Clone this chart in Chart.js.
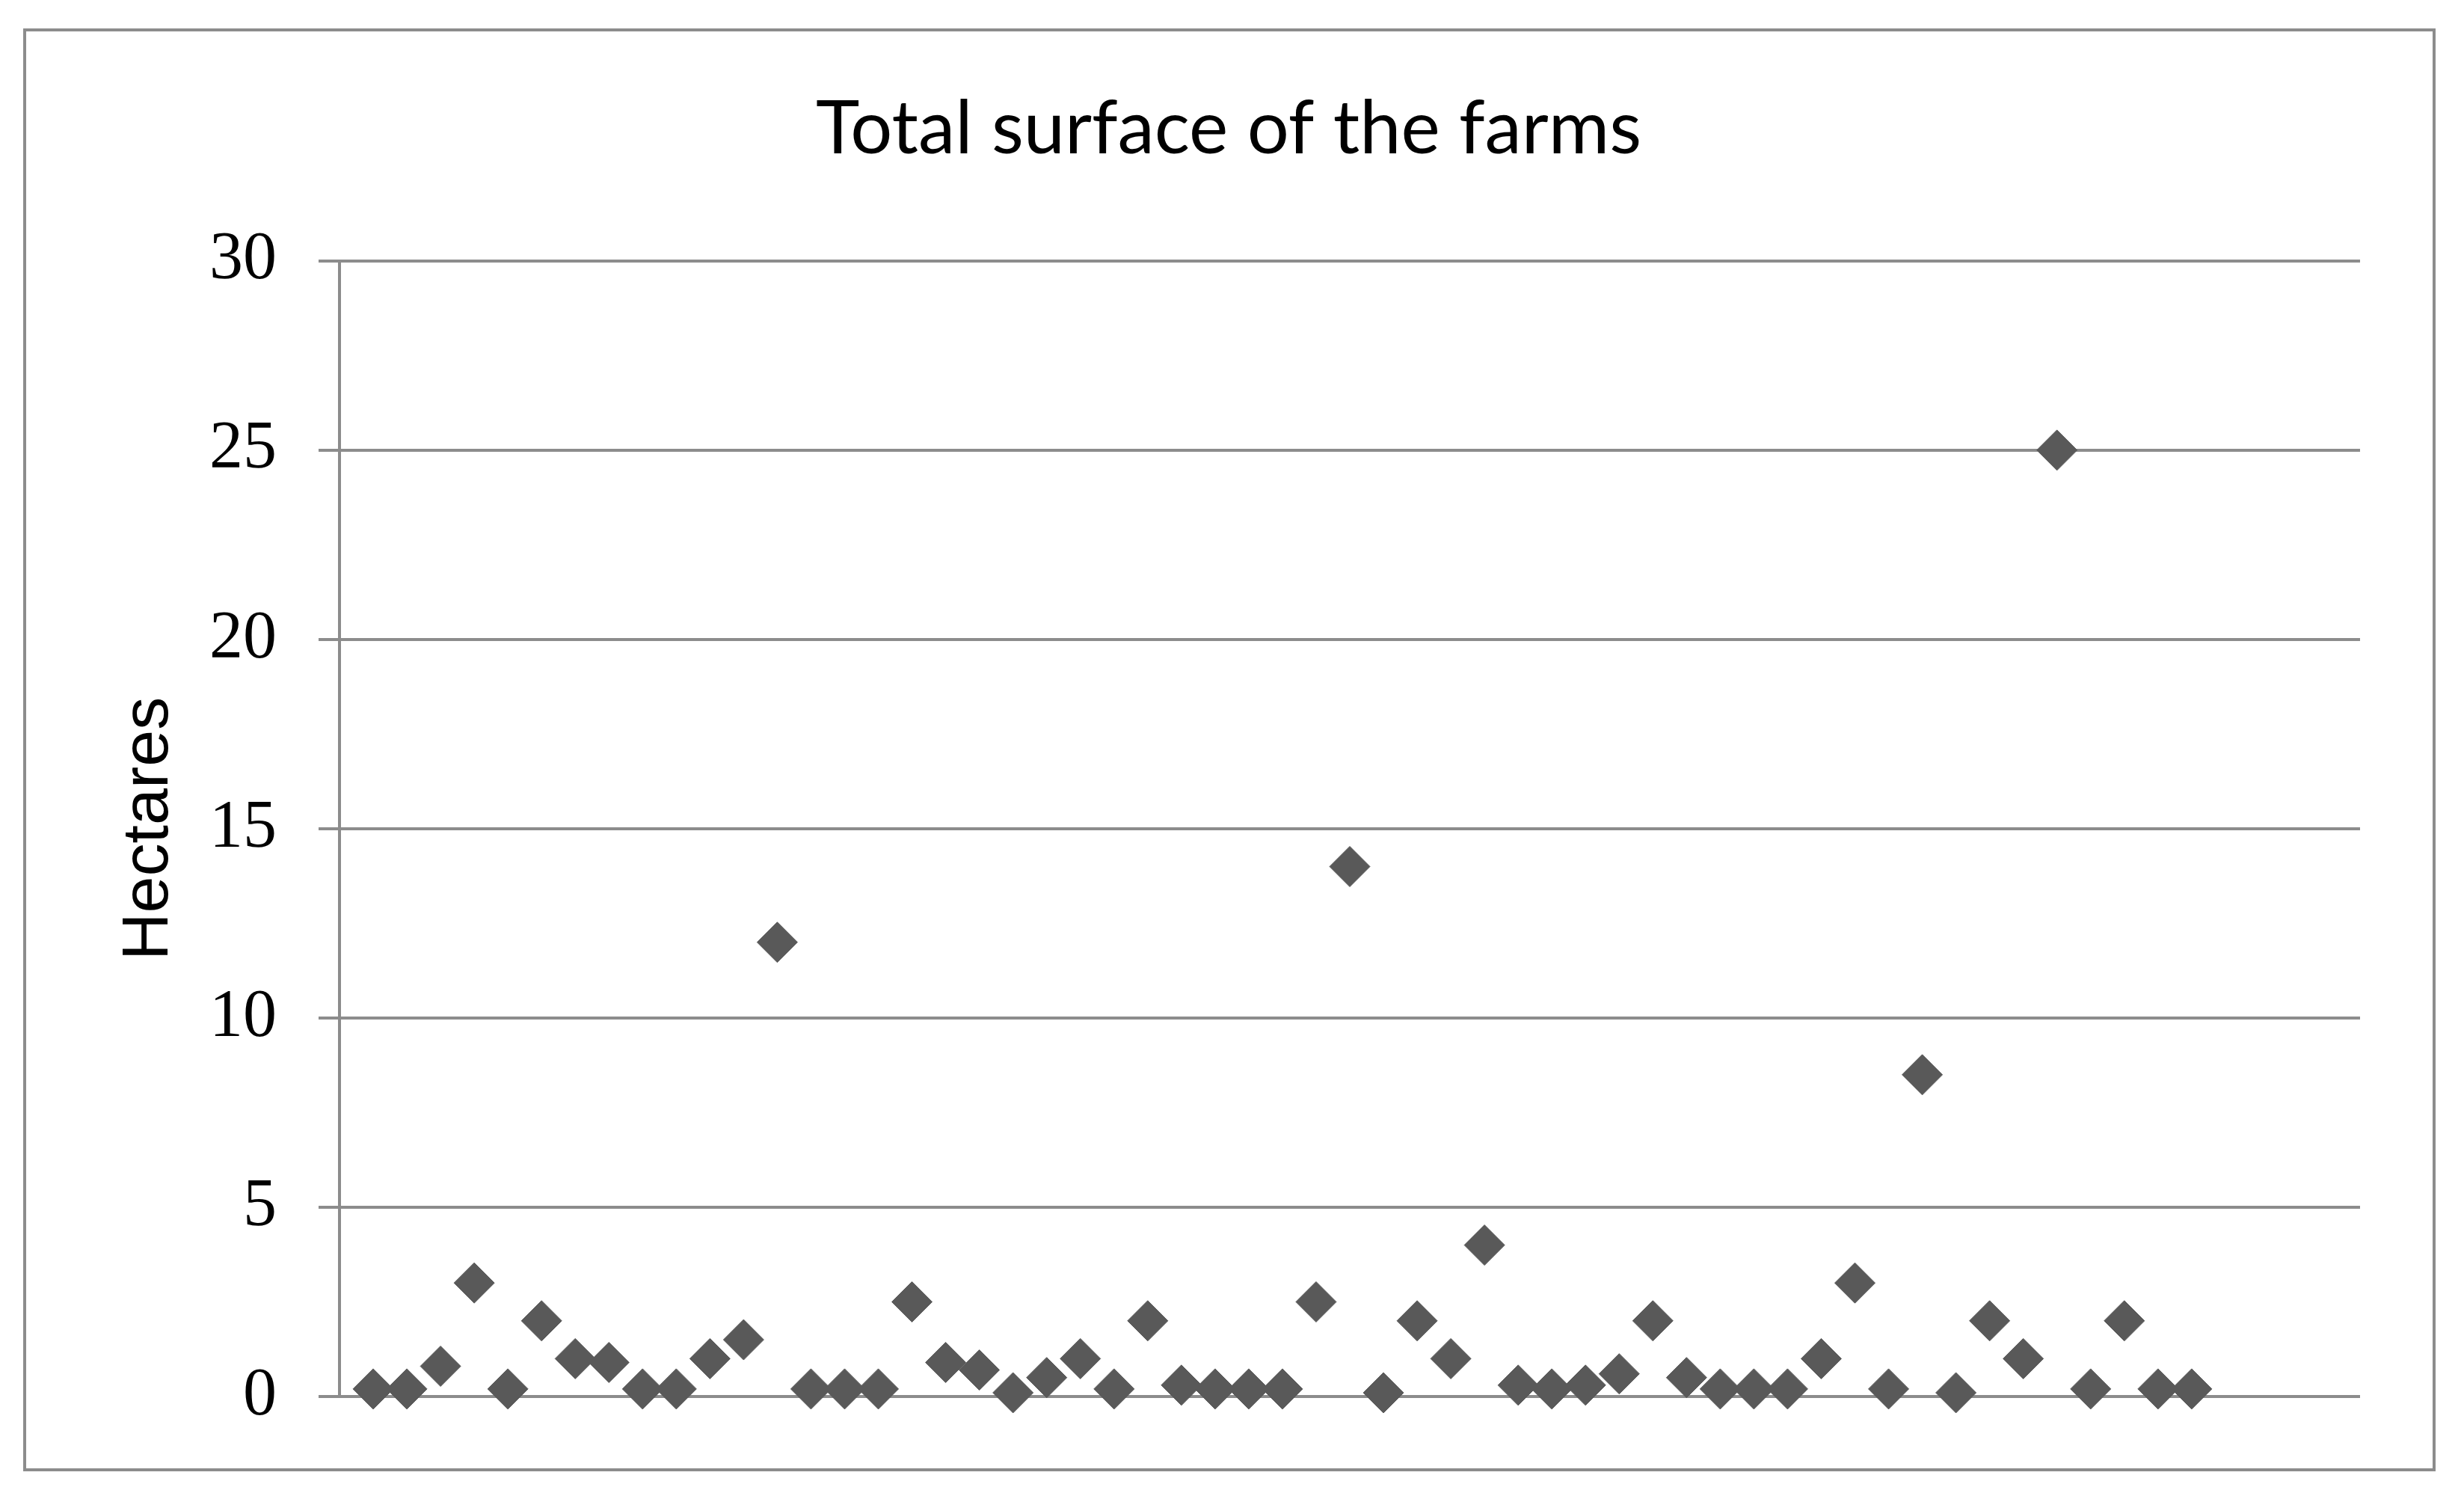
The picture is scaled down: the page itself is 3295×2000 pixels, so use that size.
<!DOCTYPE html>
<html>
<head>
<meta charset="utf-8">
<title>Total surface of the farms</title>
<script src="https://cdn.jsdelivr.net/npm/chart.js@4/dist/chart.umd.min.js"></script>
<style>
  html, body { margin: 0; padding: 0; background: #ffffff; }
  #caja { position: relative; width: 3295px; height: 2000px; }
  /* marco exterior del gráfico */
  #marco {
    position: absolute; left: 31px; top: 38px; width: 3226px; height: 1929px;
    border: 4px solid #8c8c8c; box-sizing: border-box;
  }
  #grafico { position: absolute; left: 0; top: 0; }
</style>
</head>
<body>
<div id="caja">
  <div id="marco"></div>
  <canvas id="grafico" width="3295" height="2000"></canvas>
</div>
<script>
// Número de granja (eje x, sin etiquetas en el original)
const granjas = [
   1,  2,  3,  4,  5,  6,  7,  8,  9, 10,
  11, 12, 13, 14, 15, 16, 17, 18, 19, 20,
  21, 22, 23, 24, 25, 26, 27, 28, 29, 30,
  31, 32, 33, 34, 35, 36, 37, 38, 39, 40,
  41, 42, 43, 44, 45, 46, 47, 48, 49, 50,
  51, 52, 53, 54, 55
];

// Superficie total de cada granja (hectáreas)
const hectareas = [
  0.2, 0.2, 0.8, 3, 0.2, 2, 1, 0.9, 0.2, 0.2,
  1, 1.5, 12, 0.2, 0.2, 0.2, 2.5, 0.9, 0.7, 0.1,
  0.5, 1, 0.2, 2, 0.3, 0.2, 0.2, 0.2, 2.5, 14,
  0.1, 2, 1, 4, 0.3, 0.2, 0.3, 0.6, 2, 0.5,
  0.2, 0.2, 0.2, 1, 3, 0.2, 8.5, 0.1, 2, 1,
  25, 0.2, 2, 0.2, 0.2
];

// Marcas del eje y
const marcasY = [0, 5, 10, 15, 20, 25, 30];

const puntos = granjas.map((g, i) => ({ x: g, y: hectareas[i] }));

const ctx = document.getElementById("grafico").getContext("2d");
const grafico = new Chart(ctx, {
    type: "scatter",
    data: {
        datasets: [
            {
                label: "Hectares",
                data: puntos,
                pointStyle: "rectRot",
                pointRadius: 27,
                pointHoverRadius: 27,
                backgroundColor: "#595959",
                borderColor: "#595959",
                borderWidth: 1,
                clip: false
            }
        ]
    },
    options: {
        responsive: false,
        animation: false,
        events: [],
        layout: {
            // padding izquierdo = derecho aprox. para centrar el título en el marco
            padding: { top: 0, right: 139, bottom: 133, left: 130 }
        },
        plugins: {
            legend: { display: false },
            tooltip: { enabled: false },
            title: {
                display: true,
                text: "Total surface of the farms",
                color: "#000000",
                font: { family: "Lato", size: 99, weight: "normal", lineHeight: 1.2 },
                padding: { top: 114, bottom: 116 }
            }
        },
        scales: {
            x: {
                type: "linear",
                min: 0,
                max: 60,
                display: false
            },
            y: {
                min: 0,
                max: 30,
                afterBuildTicks: function (eje) {
                    eje.ticks = marcasY.map(v => ({ value: v }));
                },
                afterFit: function (eje) {
                    // ancho fijo para que el área del gráfico empiece en x = 454
                    eje.width = 324;
                },
                border: { display: true, color: "#8c8c8c", width: 4 },
                grid: {
                    color: "#8c8c8c",
                    lineWidth: 4,
                    drawTicks: true,
                    tickLength: 28,
                    tickColor: "#8c8c8c",
                    tickWidth: 4
                },
                ticks: {
                    color: "#000000",
                    padding: 56,
                    font: { family: "Liberation Serif", size: 90 }
                },
                title: {
                    display: true,
                    text: "Hectares",
                    color: "#000000",
                    font: { family: "Liberation Sans", size: 88, lineHeight: 1.2 },
                    padding: { top: 17, bottom: 0 }
                }
            }
        }
    }
});
</script>
</body>
</html>
